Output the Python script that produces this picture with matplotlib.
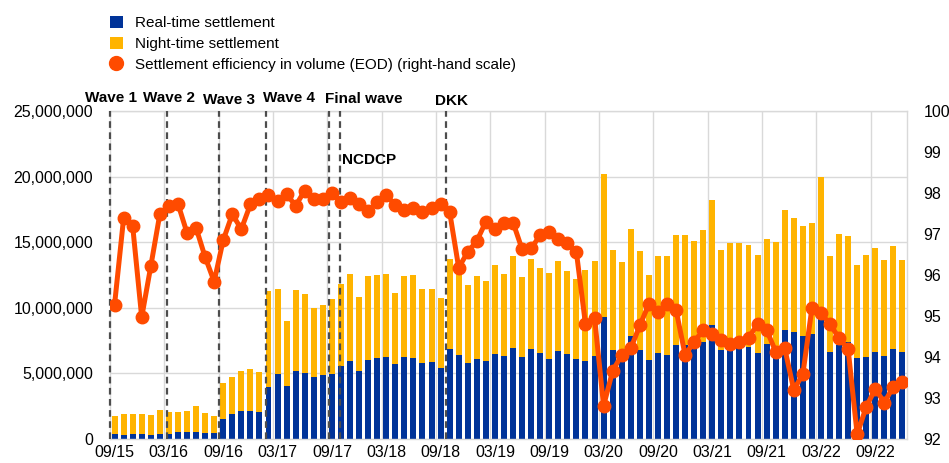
import matplotlib
matplotlib.use("Agg")
import matplotlib.pyplot as plt
import numpy as np
from matplotlib.patches import Patch
from matplotlib.lines import Line2D
from matplotlib.ticker import FuncFormatter

plt.rcParams['font.family'] = ['Liberation Sans', 'DejaVu Sans']

# ---- data (millions of settlement instructions, monthly 09/15 .. 12/22) ----
real_time = [0.38, 0.33, 0.38, 0.38, 0.30, 0.38, 0.41, 0.53, 0.53, 0.53, 0.48, 0.48,
             1.52, 1.93, 2.16, 2.16, 2.08, 3.99, 4.95, 4.07, 5.18, 5.06, 4.75, 4.88,
             4.93, 5.59, 5.95, 5.18, 6.05, 6.17, 6.25, 5.72, 6.25, 6.15, 5.82, 5.87,
             5.41, 6.83, 6.43, 5.82, 6.10, 5.92, 6.50, 6.35, 6.94, 6.22, 6.86, 6.55,
             6.12, 6.71, 6.48, 6.12, 5.97, 6.30, 9.32, 6.78, 6.30, 7.85, 6.78, 6.02,
             6.58, 6.43, 7.19, 7.16, 7.55, 7.42, 8.66, 6.81, 6.78, 6.96, 7.01, 6.53,
             7.22, 6.53, 8.28, 8.16, 7.88, 8.00, 9.20, 6.61, 7.16, 7.39, 6.20, 6.28,
             6.63, 6.33, 6.83, 6.63]

total = [1.78, 1.90, 1.90, 1.88, 1.80, 2.18, 2.03, 2.08, 2.13, 2.49, 1.98, 1.78,
         4.29, 4.75, 5.18, 5.31, 5.11, 11.25, 11.43, 8.99, 11.36, 11.05, 10.01, 10.21,
         10.67, 11.79, 12.55, 10.82, 12.42, 12.47, 12.55, 11.13, 12.42, 12.50, 11.46, 11.46,
         10.72, 13.69, 12.65, 11.71, 12.40, 12.04, 13.24, 12.58, 13.92, 12.35, 13.69, 13.06,
         12.63, 13.54, 12.83, 12.20, 12.86, 13.59, 20.20, 14.38, 13.47, 16.00, 14.35, 12.47,
         13.95, 13.95, 15.57, 15.55, 15.09, 15.93, 18.19, 14.43, 14.96, 14.96, 14.79, 14.02,
         15.24, 15.02, 17.45, 16.82, 16.21, 16.44, 20.00, 13.92, 15.62, 15.47, 13.24, 14.05,
         14.56, 13.64, 14.71, 13.64]

efficiency = [95.27, 97.38, 97.20, 94.97, 96.21, 97.48, 97.69, 97.74, 97.03, 97.15, 96.44, 95.84,
              96.85, 97.48, 97.12, 97.72, 97.85, 97.95, 97.81, 97.97, 97.69, 98.06, 97.86, 97.85,
              97.99, 97.79, 97.87, 97.73, 97.56, 97.78, 97.94, 97.71, 97.59, 97.64, 97.54, 97.64,
              97.72, 97.54, 96.18, 96.56, 96.83, 97.30, 97.12, 97.28, 97.28, 96.63, 96.65, 96.97,
              97.06, 96.89, 96.78, 96.55, 94.80, 94.96, 92.81, 93.66, 94.05, 94.21, 94.77, 95.29,
              95.09, 95.29, 95.15, 94.05, 94.37, 94.66, 94.55, 94.41, 94.32, 94.37, 94.47, 94.80,
              94.66, 94.13, 94.21, 93.20, 93.58, 95.19, 95.07, 94.80, 94.46, 94.19, 92.11, 92.79,
              93.22, 92.89, 93.28, 93.40]

tick_labels = ['09/15', '03/16', '09/16', '03/17', '09/17', '03/18', '09/18', '03/19',
               '09/19', '03/20', '09/20', '03/21', '09/21', '03/22', '09/22']

event_names = ['Wave 1', 'Wave 2', 'Wave 3', 'Wave 4', 'Final wave', 'NCDCP', 'DKK']
event_pos = [-0.5, 5.75, 11.5, 16.72, 23.7, 24.88, 36.6]

# ---- styling ----
BLUE = '#003399'
YELLOW = '#FFB400'
ORANGE = '#FF4B00'
GRID = '#D9D9D9'

real_v = np.array(real_time) * 1e6
night_v = (np.array(total) - np.array(real_time)) * 1e6
x = np.arange(len(real_v))

fig = plt.figure(figsize=(9.49, 4.63), dpi=100)
ax = fig.add_axes([110 / 949, 24 / 463, 797 / 949, 328 / 463])

ax.bar(x, real_v, width=0.66, color=BLUE, zorder=2, linewidth=0)
ax.bar(x, night_v, bottom=real_v, width=0.66, color=YELLOW, zorder=2, linewidth=0)

ax.set_xlim(-0.5, len(x) - 0.5)
ax.set_ylim(0, 25e6)
ax.set_yticks(np.arange(0, 25e6 + 1, 5e6))
ax.yaxis.set_major_formatter(FuncFormatter(lambda v, p: f"{int(v):,}"))
ax.grid(axis='y', color=GRID, linewidth=1.0, zorder=0)

tick_pos = np.arange(0, len(x), 6)[:len(tick_labels)]
ax.set_xticks(tick_pos)
ax.set_xticklabels(tick_labels)
for b in np.arange(5.5, len(x) - 1, 6):
    ax.axvline(b, color=GRID, linewidth=1.0, zorder=0)

ax.tick_params(axis='both', length=0, labelsize=11.5, colors='#000000')
ax.tick_params(axis='y', pad=12)
ax.tick_params(axis='x', pad=4)
for s in ax.spines.values():
    s.set_color(GRID)
    s.set_linewidth(1.0)

for name, pos in zip(event_names, event_pos):
    ax.axvline(pos, color='#4D4D4D', linestyle=(0, (3, 2)), linewidth=1.6, zorder=3,
               clip_on=False)

label_x = {'Wave 1': -0.44, 'Wave 2': 6.06, 'Wave 3': 12.68, 'Wave 4': 19.3,
           'Final wave': 27.56, 'DKK': 37.16}
label_y = {'Wave 1': 1.040, 'Wave 2': 1.040, 'Wave 3': 1.034, 'Wave 4': 1.040,
           'Final wave': 1.037, 'DKK': 1.031}
tr = ax.get_xaxis_transform()
for name in event_names:
    if name == 'NCDCP':
        ax.text(25.1, 0.851, name, transform=tr, ha='left', va='center',
                fontsize=11, fontweight='bold', zorder=5)
    else:
        ax.text(label_x[name], label_y[name], name, transform=tr, ha='center', va='center',
                fontsize=11, fontweight='bold', clip_on=False, zorder=5)

ax2 = ax.twinx()
ax2.plot(x, efficiency, color=ORANGE, linewidth=3.6, marker='o', markersize=9,
         zorder=4, solid_joinstyle='round')
ax2.set_ylim(92, 100)
ax2.set_yticks(np.arange(92, 101, 1))
ax2.tick_params(axis='y', length=0, labelsize=11.5, pad=12)
for s in ax2.spines.values():
    s.set_visible(False)

handles = [Patch(facecolor=BLUE, edgecolor='none'),
           Patch(facecolor=YELLOW, edgecolor='none'),
           Line2D([], [], color=ORANGE, marker='o', linestyle='None', markersize=10)]
labels = ['Real-time settlement', 'Night-time settlement',
          'Settlement efficiency in volume (EOD) (right-hand scale)']
fig.legend(handles, labels, loc='upper left', bbox_to_anchor=(110 / 949, 1 - 16 / 463),
           frameon=False, fontsize=11, handlelength=0.85, handleheight=0.85,
           handletextpad=0.8, labelspacing=0.42, borderpad=0, borderaxespad=0)

fig.savefig('out.png', dpi=100)
